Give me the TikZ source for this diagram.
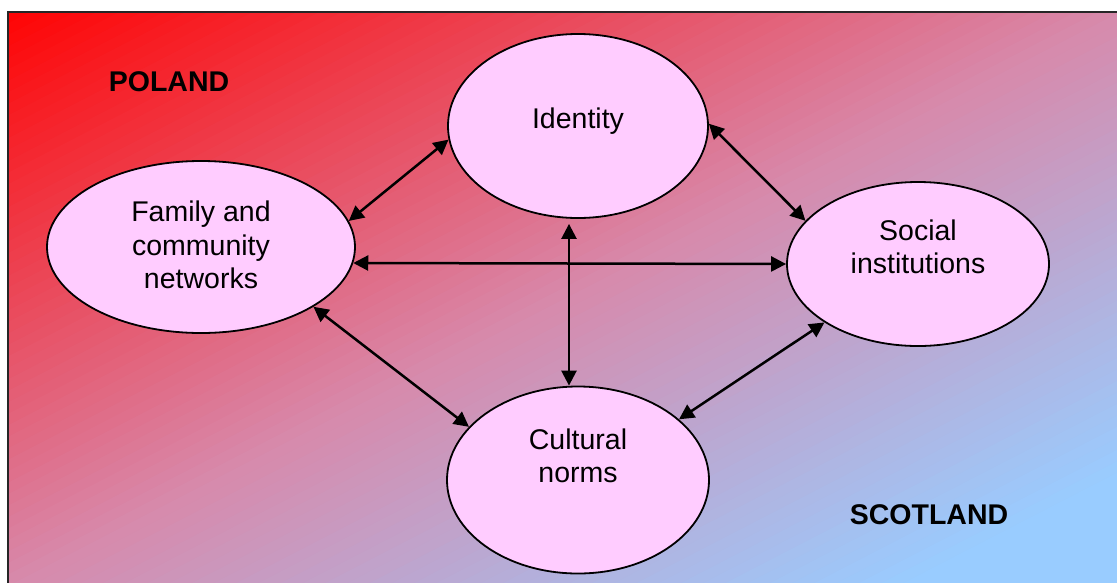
\documentclass[tikz,border=0pt]{standalone}
\usepackage{fontspec}
\setmainfont{Liberation Sans}
\usetikzlibrary{arrows.meta,shapes.geometric}
\definecolor{bgred}{RGB}{255,4,4}
\definecolor{bgmid}{RGB}{215,138,172}
\definecolor{bgblue}{RGB}{153,204,255}
\definecolor{blobpink}{RGB}{255,204,255}

\begin{document}
\begin{tikzpicture}[x=1pt, y=-1pt,
    blob/.style={ellipse, draw=black, line width=1.8pt, fill=blobpink, inner sep=0pt},
    lbl/.style={font=\fontsize{28.5}{33.5}\selectfont, align=center, inner sep=0pt},
    country/.style={font=\fontsize{28.5}{33.5}\selectfont\bfseries, inner sep=0pt},
    link/.style={{Triangle[length=15pt,width=15pt]}-{Triangle[length=15pt,width=15pt]}, line width=2.5pt}]
		%%%%% START %%%%%
		
		\useasboundingbox (0, 0) rectangle (1117, 582);
		\clip (0, 0) rectangle (1117, 582);
		
		% background, diagonal bands from red to blue
		\begin{scope}
			\clip (8, 12) rectangle (1125, 590);
			\foreach \i in {0,...,99}{
				\pgfmathtruncatemacro\pct{\i<50 ? 2*\i+1 : min(100, (\i-49.5)*2.5)}
				\ifnum\i<50 \colorlet{band}{bgmid!\pct!bgred}\else\colorlet{band}{bgblue!\pct!bgmid}\fi
				\pgfmathsetmacro\a{\i/50}
				\pgfmathsetmacro\b{(\i+1.4)/50}
				\fill[band] ({8+\a*1112}, 12) -- (8, {12+\a*574}) -- (8, {12+\b*574}) -- ({8+\b*1112}, 12) -- cycle;
			}
		\end{scope}
		\draw[line width=1.6pt, color=black!85] (8, 12) rectangle (1125, 590);
		
		\node[country] (poland) at (169, 82) {POLAND};
		\node[country] (scotland) at (929, 515) {SCOTLAND};
		
		% ellipses
		\node[blob, minimum width=260pt, minimum height=184pt] (identity) at (578, 126) {};
		\node[blob, minimum width=308pt, minimum height=172pt] (family) at (201, 247) {};
		\node[blob, minimum width=262pt, minimum height=164pt] (social) at (918, 264) {};
		\node[blob, minimum width=262pt, minimum height=187pt] (cultural) at (578, 480) {};
		
		\node[lbl] (identity-text) at (578, 121) {Identity};
		\node[lbl] (family-text) at (201, 245) {Family and\\community\\networks};
		\node[lbl] (social-text) at (918, 247) {Social\\institutions};
		\node[lbl] (cultural-text) at (578, 456) {Cultural\\norms};
		
		% links
		\draw[link] (family.10) -- (identity.186.5);
		\draw[link] (identity.1.3) -- (social.159.3);
		\draw[link] (family.-6.9) -- (social.west);
		\draw[link, shorten <=5pt] ([xshift=-9pt]identity.south) -- ([xshift=-9pt]cultural.north);
		\draw[link] (family.-28.8) -- (cultural.154.5);
		\draw[link] (social.212.9) -- (cultural.31.4);
		
		%%%%% END %%%%%
	\end{tikzpicture}
\end{document}
